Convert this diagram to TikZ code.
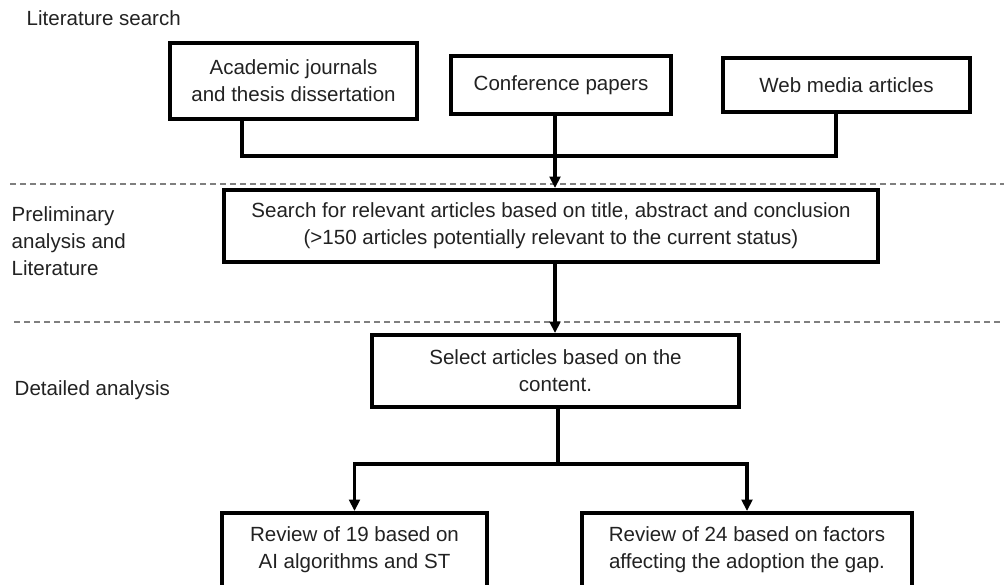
\documentclass[tikz,border=0pt]{standalone}
\usepackage{fontspec}
\setmainfont{Liberation Sans}
\usetikzlibrary{arrows.meta, calc, positioning}
\definecolor{txtgray}{HTML}{222222}
\definecolor{sepgray}{HTML}{7F7F7F}
\tikzset{
  % step box of the flow
  flowbox/.style={draw=black, line width=3pt, fill=white, align=center,
    inner sep=2pt, text=txtgray},
  % plain connector and arrow
  wire/.style={line width=2.3pt, black},
  arr/.style={wire, -{Triangle[length=8.5pt, width=8pt]}},
  % phase separator
  phasesep/.style={sepgray, line width=1.1pt, dash pattern=on 4.5pt off 3pt},
  % phase label on the left
  phaselbl/.style={anchor=west, align=left, text=txtgray},
}
\begin{document}
\begin{tikzpicture}[x=0.75pt, y=-0.75pt,
  every node/.style={font=\fontsize{15.4}{20.25}\selectfont}]
  \clip (0,0) rectangle (1004,585);
  \fill[white] (0,0) rectangle (1004,585);
  % phases
  \node[phaselbl] (ls) at (22,18) {Literature search};
  \node[phaselbl] (pa) at (7,241) {Preliminary\\analysis and\\Literature};
  \node[phaselbl] (da) at (10,390) {Detailed analysis};
  \draw[phasesep] (10,184) -- (1004,184);
  \draw[phasesep] (14,322) -- (1004,322);
  % sources
  \node[flowbox, minimum width=185.25pt, minimum height=57pt] (acad) at (293.5,81) {Academic journals\\and thesis dissertation};
  \node[flowbox, minimum width=165pt, minimum height=43.5pt] (conf) at (561,85) {Conference papers};
  \node[flowbox, minimum width=185.25pt, minimum height=40.5pt] (web) at (846.5,85) {Web media articles};
  % screening
  \node[flowbox, minimum width=490.5pt, minimum height=54pt] (search) at (551,226) {Search for relevant articles based on title, abstract and conclusion\\(>150 articles potentially relevant to the current status)};
  \node[flowbox, minimum width=275.25pt, minimum height=54pt] (select) at (555.5,371) {Select articles based on the\\content.};
  \node[flowbox, minimum width=198.75pt, minimum height=55.5pt] (rev1) at (354.5,550) {Review of 19 based on\\AI algorithms and ST};
  \node[flowbox, minimum width=247.5pt, minimum height=55.5pt] (rev2) at (747,550) {Review of 24 based on factors\\affecting the adoption the gap.};
  % links
  \coordinate (jtop) at (555,156);
  \coordinate (jbot) at (558,464);
  \draw[wire] ($(acad.south)+(-51.5,0)$) |- (jtop) -| ($(web.south)+(-10.5,0)$);
  \draw[wire] (conf.south -| jtop) -- (jtop);
  \draw[arr] (jtop) -- (search.north -| jtop);
  \draw[arr] (search.south -| jtop) -- (select.north -| jtop);
  \draw[wire] (select.south -| jbot) -- (jbot);
  \draw[arr] (jbot) -| (rev1.north);
  \draw[arr] (jbot) -| (rev2.north);
\end{tikzpicture}
\end{document}
